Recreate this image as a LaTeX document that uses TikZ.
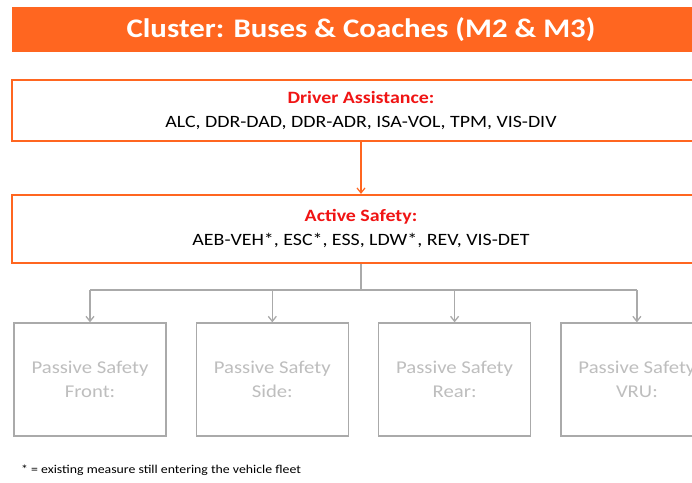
\documentclass[tikz,border=0pt]{standalone}
\usepackage{fontspec}
\setmainfont{Carlito}[FakeStretch=1.15]
\usepackage{xcolor}
\usetikzlibrary{arrows.meta, positioning}

\definecolor{bannerorange}{RGB}{255,102,32}
\definecolor{headred}{RGB}{240,20,20}
\definecolor{passivegray}{RGB}{170,170,170}
\definecolor{passivetext}{RGB}{190,190,190}

\begin{document}
\begin{tikzpicture}[
          x=1pt, y=-1pt,
          banner/.style={rectangle, fill=bannerorange, text=white, font=\fontsize{26.8}{30}\selectfont\bfseries,
            minimum width=698pt, minimum height=45pt, inner sep=0pt},
          clusterbox/.style={rectangle, draw=bannerorange, line width=1.8pt, fill=white, align=center,
            minimum width=698pt, inner sep=0pt, font=\fontsize{17.3}{24}\selectfont},
          passivebox/.style={rectangle, draw=passivegray, line width=1.3pt, text=passivetext, align=center,
            minimum width=152pt, minimum height=113pt, inner sep=0pt,
            font=\fontsize{18}{24}\selectfont},
          feed/.style={draw=bannerorange, line width=1.2pt, -{Straight Barb[length=5pt, width=8pt]}},
          branch/.style={draw=passivegray, line width=1.3pt},
          branchtip/.style={branch, -{Straight Barb[length=5pt, width=8pt]}}
        ]
          \useasboundingbox (0,0) rectangle (692,482);
          \clip (0,0) rectangle (692,482);
          \fill[white] (0,0) rectangle (692,482);

          \node[banner] (title) at (361,29.5) {Cluster: Buses \& Coaches (M2 \& M3)};

          \node[clusterbox, minimum height=61pt] (driver) at (361,110.5)
            {{\color{headred}\bfseries Driver Assistance:}\\ALC, DDR-DAD, DDR-ADR, ISA-VOL, TPM, VIS-DIV};
          \node[clusterbox, minimum height=68pt, below=52pt of driver] (active)
            {{\color{headred}\bfseries Active Safety:}\\AEB-VEH*, ESC*, ESS, LDW*, REV, VIS-DET};

          % passive safety row
          \node[passivebox] (front) at (90,379.5) {Passive Safety\\Front:};
          \node[passivebox, right=29pt of front] (side) {Passive Safety\\Side:};
          \node[passivebox, right=29pt of side] (rear) {Passive Safety\\Rear:};
          \node[passivebox, right=29pt of rear] (vru) {Passive Safety\\VRU:};

          \draw[feed] (driver) -- (active);

          \coordinate (split) at (361,290);
          \draw[branch] (active) -- (split);
          \draw[branch] (front.north |- split) -- (vru.north |- split);
          \foreach \pbox in {front, side, rear, vru}
            \draw[branchtip] (\pbox.north |- split) -- (\pbox);

          \node[anchor=west, inner sep=0pt, font=\fontsize{12}{14}\selectfont] (note) at (21,470)
            {* = existing measure still entering the vehicle fleet};
        \end{tikzpicture}
\end{document}
